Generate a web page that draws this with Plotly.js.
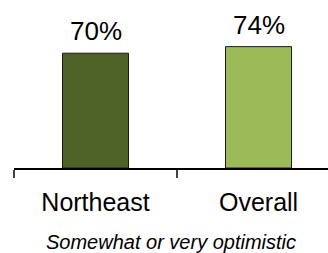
<!DOCTYPE html>
<html>
<head>
<meta charset="utf-8">
<script src="https://cdn.plot.ly/plotly-3.0.1.min.js"></script>
<style>html,body{margin:0;padding:0;background:#fff;}#chart{width:328px;height:253px;}</style>
</head>
<body>
<div id="chart"></div>
<script>
const categories = ["Northeast", "Overall"];
const values = [70, 74];
const valueLabels = ["70%", "74%"];
const barColors = ["#4F6228", "#9BBB59"];
const subtitle = "Somewhat or very optimistic";

const font = "Liberation Sans, Arial, sans-serif";

const trace = {
  type: "bar",
  x: categories,
  y: values,
  width: 0.405,
  marker: { color: barColors, line: { color: "#1a1a1a", width: 1 } },
  hoverinfo: "none"
};

const annotations = categories.map((c, i) => ({
  x: c, y: values[i], xref: "x", yref: "y",
  text: valueLabels[i], showarrow: false,
  yanchor: "bottom", yshift: 5,
  font: { family: font, size: 26, color: "#000" }
}));

const layout = {
  width: 328, height: 253,
  margin: { l: 14, r: 0, t: 4, b: 85 },
  paper_bgcolor: "#fff", plot_bgcolor: "#fff",
  showlegend: false,
  xaxis: {
    type: "category",
    range: [-0.5, 1.426],
    showline: true, linecolor: "#000", linewidth: 2,
    ticks: "outside", tickson: "boundaries", ticklen: 8, tickwidth: 1.5, tickcolor: "#444",
    ticklabelstandoff: 11,
    tickfont: { family: font, size: 25, color: "#000" },
    showgrid: false, zeroline: false,
    title: { text: subtitle, font: { family: font, size: 20, color: "#000", style: "italic" }, standoff: 20 }
  },
  yaxis: {
    range: [0, 100], visible: false, showgrid: false, zeroline: false, fixedrange: true
  },
  annotations: annotations
};

Plotly.newPlot("chart", [trace], layout, { staticPlot: true, displayModeBar: false });
</script>
</body>
</html>
